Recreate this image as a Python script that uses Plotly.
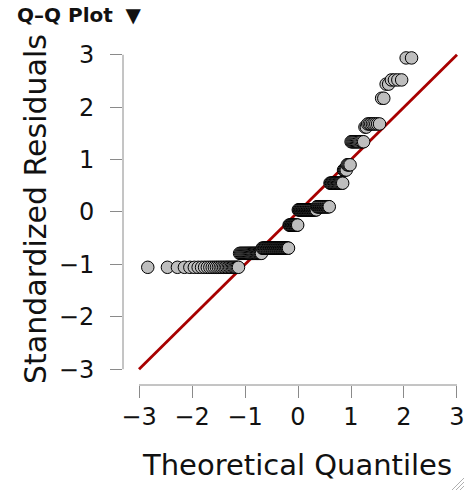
import plotly.graph_objects as go
from statistics import NormalDist

# ---- data ----
# standardized residual levels (tied values) and how many observations sit on each
residual_levels = [-1.056, -0.79, -0.69, -0.25, 0.04, 0.10, 0.55, 0.80, 0.90,
                   1.34, 1.62, 1.68, 2.17, 2.44, 2.52, 2.94]
level_counts = [29, 25, 40, 15, 30, 19, 17, 4, 4, 12, 2, 8, 2, 2, 4, 2]
n_total = 218  # sample size (a few largest residuals fall above the plotted range)

tick_values = [-3, -2, -1, 0, 1, 2, 3]
tick_labels = ["\u22123", "\u22122", "\u22121", "0", "1", "2", "3"]
line_ends = [-3, 3]

# ---- Q-Q computation (qqnorm-style plotting positions) ----
residuals = []
for lv, c in zip(residual_levels, level_counts):
    residuals += [lv] * c
residuals.sort()
nd = NormalDist()
theoretical = [nd.inv_cdf((i + 0.5) / n_total) for i in range(len(residuals))]

W, H = 474, 492
L, R, T, B = 123, 466, 40, 385
x_range = [-3.302, 3.17]
y_range = [-3.302, 3.282]

fig = go.Figure()
fig.add_trace(go.Scatter(x=line_ends, y=line_ends, mode="lines",
                         line=dict(color="#a80000", width=2.8),
                         hoverinfo="skip", showlegend=False))
fig.add_trace(go.Scatter(x=theoretical, y=residuals, mode="markers",
                         marker=dict(size=12.5, color="#bebebe",
                                     line=dict(color="black", width=1)),
                         showlegend=False))

axis_color = "#8a8a8a"
tick_font = dict(family="DejaVu Sans", size=24, color="#111")
fig.update_xaxes(range=x_range, tickvals=tick_values, ticktext=tick_labels,
                 ticks="outside", ticklen=12, tickwidth=1, tickcolor=axis_color,
                 showline=False, showgrid=False, zeroline=False,
                 tickfont=tick_font, ticklabelstandoff=-2)
fig.update_yaxes(range=y_range, tickvals=tick_values, ticktext=tick_labels,
                 ticks="outside", ticklen=12, tickwidth=1, tickcolor=axis_color,
                 showline=False, showgrid=False, zeroline=False,
                 tickfont=tick_font, ticklabelstandoff=11)

shapes = [
    dict(type="line", xref="x", yref="paper", x0=line_ends[0], x1=line_ends[1],
         y0=0, y1=0, line=dict(color=axis_color, width=1)),
    dict(type="line", xref="paper", yref="y", x0=0, x1=0,
         y0=line_ends[0], y1=line_ends[1], line=dict(color=axis_color, width=1)),
]
# resize grip decoration (bottom-right)
pw, ph = R - L, B - T
def px_to_paper(px, py):
    return (px - L) / pw, (B - py) / ph
for k in range(3):
    x0, y0 = px_to_paper(452 + 4 * k, 490)
    x1, y1 = px_to_paper(464, 478 + 4 * k)
    shapes.append(dict(type="line", xref="paper", yref="paper",
                       x0=x0, y0=y0, x1=x1, y1=y1,
                       line=dict(color="#b0b0b0", width=1)))

annotations = []
tx, ty = px_to_paper(15, 15)
annotations.append(dict(text="<b>Q\u2013Q Plot</b>  \u25bc", xref="paper", yref="paper",
                        x=tx, y=ty, xanchor="left", yanchor="middle", showarrow=False,
                        font=dict(family="DejaVu Sans", size=20, color="#111")))
xx, xy = px_to_paper(297, 465)
annotations.append(dict(text="Theoretical Quantiles", xref="paper", yref="paper",
                        x=xx, y=xy, xanchor="center", yanchor="middle", showarrow=False,
                        font=dict(family="DejaVu Sans", size=29, color="#111")))
yx, yy = px_to_paper(35, 209)
annotations.append(dict(text="Standardized Residuals", xref="paper", yref="paper",
                        x=yx, y=yy, xanchor="center", yanchor="middle", showarrow=False,
                        textangle=-90,
                        font=dict(family="DejaVu Sans", size=30, color="#111")))

fig.update_layout(width=W, height=H, autosize=False,
                  margin=dict(l=L, r=W - R, t=T, b=H - B, pad=0),
                  paper_bgcolor="white", plot_bgcolor="white",
                  shapes=shapes, annotations=annotations, showlegend=False)

fig.write_html("out.html")
